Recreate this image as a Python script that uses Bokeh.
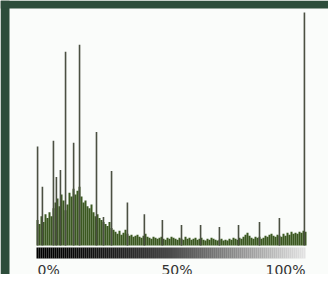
import numpy as np
from bokeh.plotting import figure
from bokeh.models import Range1d, GlobalInlineStyleSheet
from bokeh.core.properties import value
from bokeh.embed import file_html
from bokeh.resources import INLINE

# Histogram "mass" (135 level bins from 0% to 100%), counts
base_counts = [
    26, 22, 30, 24, 32, 28, 34, 30, 38, 44,
    48, 40, 52, 46, 36, 42, 54, 50, 58, 52,
    56, 60, 50, 44, 46, 40, 38, 42, 34, 30,
    32, 28, 26, 24, 22, 20, 24, 18, 16, 14,
    12, 15, 11, 13, 16, 12, 10, 11, 9, 10,
    11, 9, 8, 10, 12, 9, 8, 7, 9, 8,
    7, 8, 9, 7, 6, 8, 7, 9, 8, 7,
    6, 8, 7, 6, 9, 7, 8, 6, 7, 8,
    6, 7, 8, 6, 5, 7, 6, 8, 7, 6,
    5, 6, 7, 5, 6, 5, 7, 6, 8, 7,
    6, 8, 7, 9, 11, 13, 10, 8, 7, 9,
    8, 9, 7, 8, 10, 9, 11, 12, 10, 9,
    11, 10, 9, 12, 10, 13, 11, 14, 12, 13,
    12, 14, 13, 15, 14,
]

# Isolated spikes: level (%) and count
spike_levels = [0.4, 2.2, 6.3, 7.4, 8.9, 10.8, 13.8, 16.0, 22.3, 24.9, 27.9,
                33.8, 40.1, 46.8, 53.9, 61.0, 68.0, 75.1, 82.9, 90.3, 99.6]
spike_counts = [101, 60, 107, 70, 77, 198, 105, 205, 116, 29, 76,
                44, 32, 26, 21, 21, 19, 21, 24, 28, 238]

tick_positions = [0, 50, 100]
tick_labels = ["0%", "50%", "100%"]

W, H = 328, 274
X0, X100 = 36, 305        # pixel positions of 0% and 100%
B, TOP = 245, 12          # pixel rows of count 0 and of the top count
CMAX = 238
ux = 100 / (X100 - X0)
sy = (B - TOP) / CMAX     # pixels per count


def dx(px):
    return (px - X0) * ux


def dy(py):
    return (B - py) / sy


n = len(base_counts)
bin_w = 100 / (n - 0.5)
centers = (np.arange(n) + 0.5) * bin_w

p = figure(width=W, height=H, output_backend="svg", toolbar_location=None,
           x_range=Range1d(dx(0), dx(W)), y_range=Range1d(dy(H), dy(0)),
           x_axis_location=None, y_axis_location=None,
           min_border_left=0, min_border_right=0,
           min_border_top=0, min_border_bottom=0)
p.stylesheets = [GlobalInlineStyleSheet(css="html, body { overflow: hidden; }")]
p.grid.visible = False
p.outline_line_color = None
p.background_fill_color = "#fafcfa"
p.border_fill_color = "#fafcfa"

# dark green frame strips (top and left)
p.quad(left=[dx(0), dx(0)], right=[dx(9), dx(W)], bottom=[dy(H), dy(8)],
       top=[dy(0), dy(0)], fill_color="#2d4d3b", line_color=None)

p.vbar(x=centers, top=base_counts, bottom=0, width=bin_w,
       fill_color="#3b5820", line_color=None)
p.vbar(x=spike_levels, top=spike_counts, bottom=0, width=0.6,
       fill_color="#4b5042", line_color=None)

# gradient bar under the histogram
nseg = 135
gx = np.linspace(0, 100, nseg + 1)
t = (gx[:-1] + gx[1:]) / 200
g = (228 * t ** 1.6).astype(int)
colors = ["#%02x%02x%02x" % (v, v, v) for v in g]
p.quad(left=gx[:-1], right=gx[1:], bottom=dy(258), top=dy(247),
       fill_color=colors, line_color=None)

aligns = ["left", "center", "right"]
offsets = [1, 6, 0]
for pos, lab, al, off in zip(tick_positions, tick_labels, aligns, offsets):
    p.text(x=[pos], y=[dy(269)], text=[lab], text_align=al, x_offset=off,
           text_baseline="alphabetic", text_font=value("DejaVu Sans"),
           text_font_size="14px", text_color="#333333")

html = file_html(p, INLINE)
html = html.replace("<body>", '<body style="overflow:hidden">', 1)
open("out.html", "w").write(html)
